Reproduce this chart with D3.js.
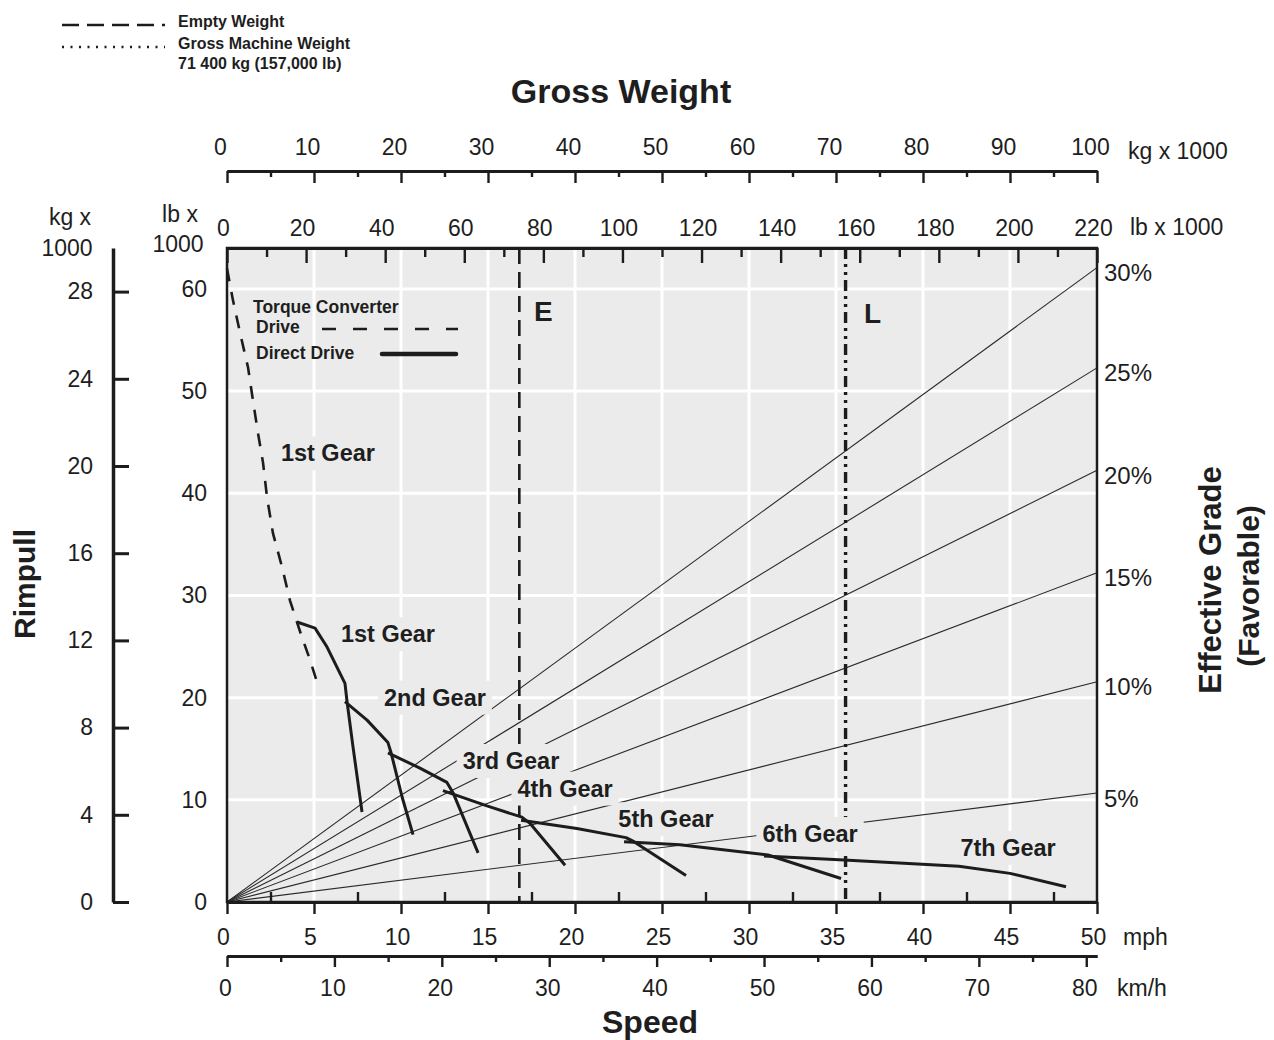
<!DOCTYPE html>
<html><head><meta charset="utf-8">
<script src="https://cdn.jsdelivr.net/npm/d3@7"></script>
<style>
body{margin:0;background:#fff;}
svg text{font-family:"Liberation Sans",Arial,Helvetica,sans-serif;fill:#1e1e1e;}
</style></head><body>
<svg id="c" width="1274" height="1040"></svg>
<script>
// ---------------- DATA ----------------
const weightKgTicks = [0,10,20,30,40,50,60,70,80,90,100];
const weightKgMinor = [5,15,25,35,45,55,65,75,85,95];
const weightLbTicks = [0,20,40,60,80,100,120,140,160,180,200,220];
const weightLbMinor = [10,30,50,70,90,110,130,150,170,190,210];
const rimpullKgTicks = [0,4,8,12,16,20,24,28];
const rimpullLbTicks = [0,10,20,30,40,50,60];
const speedMphTicks = [0,5,10,15,20,25,30,35,40,45,50];
const speedMphMinor = [2.5,7.5,12.5,17.5,22.5,27.5,32.5,37.5,42.5,47.5];
const speedKmhTicks = [0,10,20,30,40,50,60,70,80];
const speedKmhMinor = [5,15,25,35,45,55,65,75];
const mphGrid = [5,10,15,20,25,30,35,40,45];
const lbGrid = [10,20,30,40,50,60];

const grades = ["30%","25%","20%","15%","10%","5%"];
const gradeRimpullAt100t = [29.1,24.5,19.8,15.1,10.1,5.0]; // kg x 1000 rimpull at 100 t

const emptyWeightKg = 33.6;   // "E"
const grossWeightKg = 71.1;   // "L"

// curves: [mph, lb x 1000 rimpull]
const torqueConverter = [[0,62.0],[0.34,58.9],[0.75,55.7],[1.21,52.3],[1.49,49.1],[1.78,45.9],[2.07,43.0],[2.30,39.6],[2.64,36.1],[3.16,32.8],[3.62,29.5],[4.02,27.4],[4.31,25.9],[4.77,23.7],[5.23,21.2]];
const gear1 = [[4.02,27.4],[5.06,26.8],[5.75,24.95],[6.78,21.4],[6.90,19.6],[7.24,15.2],[7.76,8.8]];
const gear2 = [[6.78,19.6],[8.05,17.8],[9.25,15.6],[9.43,14.6],[10.06,10.3],[10.69,6.6]];
const gear3 = [[9.25,14.6],[11.09,13.1],[12.64,11.7],[12.99,10.7],[14.43,4.8]];
const gear4 = [[12.41,10.9],[14.94,9.4],[16.95,8.3],[17.41,7.7],[19.43,3.6]];
const gear5 = [[16.90,8.0],[20.11,7.2],[22.93,6.3],[23.39,5.9],[26.38,2.6]];
const gear6 = [[22.82,5.9],[26.03,5.6],[31.09,4.6],[35.29,2.3]];
const gear7 = [[30.86,4.5],[35.46,4.1],[42.07,3.5],[45.0,2.8],[48.22,1.5]];

const gearLabels = ["1st Gear","1st Gear","2nd Gear","3rd Gear","4th Gear","5th Gear","6th Gear","7th Gear"];
const gearLabelMph = [5.80,9.25,11.95,16.32,19.43,25.23,33.51,44.89];
const gearLabelLb  = [43.9,26.2,20.0,13.8,11.1,8.1,6.65,5.3];

// ---------------- CHART ----------------
const svg = d3.select("#c");
const L=227,R=1097,T=248,B=902;
const INK="#1c1c1c";
const xMph=d3.scaleLinear().domain([0,50]).range([L,R]);
const xKmh=d3.scaleLinear().domain([0,81]).range([L,R]);
const xKg=d3.scaleLinear().domain([0,100]).range([L,R]);
const xLb=d3.scaleLinear().domain([0,220]).range([L,R]);
const yLb=d3.scaleLinear().domain([0,64]).range([B,T]);
const yKg=d3.scaleLinear().domain([0,30]).range([B,T]);

// plot background
svg.append("rect").attr("x",L).attr("y",T).attr("width",R-L).attr("height",B-T).attr("fill","#ebebeb");

// white grid
svg.append("g").selectAll("line").data(mphGrid).join("line")
  .attr("x1",d=>xMph(d)).attr("x2",d=>xMph(d)).attr("y1",T).attr("y2",B)
  .attr("stroke","#fff").attr("stroke-width",3);
svg.append("g").selectAll("line").data(lbGrid).join("line")
  .attr("y1",d=>yLb(d)).attr("y2",d=>yLb(d)).attr("x1",L).attr("x2",R)
  .attr("stroke","#fff").attr("stroke-width",3);

// grade lines
svg.append("g").selectAll("line").data(gradeRimpullAt100t).join("line")
  .attr("x1",xKg(0)).attr("y1",yKg(0)).attr("x2",xKg(100)).attr("y2",d=>yKg(d))
  .attr("stroke","#2a2a2a").attr("stroke-width",1.1);
svg.append("g").selectAll("text").data(gradeRimpullAt100t).join("text")
  .attr("x",R+7).attr("y",d=>yKg(d)+5).attr("dominant-baseline","central")
  .attr("font-size",24).text((d,i)=>grades[i]);

// weight lines E and L
svg.append("line").attr("x1",xKg(emptyWeightKg)).attr("x2",xKg(emptyWeightKg)).attr("y1",T).attr("y2",B)
  .attr("stroke",INK).attr("stroke-width",2.6).attr("stroke-dasharray","16,8");
svg.append("line").attr("x1",xKg(grossWeightKg)).attr("x2",xKg(grossWeightKg)).attr("y1",T).attr("y2",B)
  .attr("stroke",INK).attr("stroke-width",3.4).attr("stroke-dasharray","11,5,3,5,3,5");
svg.append("text").attr("x",xKg(emptyWeightKg)+24).attr("y",311).attr("dominant-baseline","central")
  .attr("text-anchor","middle").attr("font-size",28).attr("font-weight","bold").text("E");
svg.append("text").attr("x",xKg(grossWeightKg)+27).attr("y",313).attr("dominant-baseline","central")
  .attr("text-anchor","middle").attr("font-size",28).attr("font-weight","bold").text("L");

// gear labels with background masks
const lblG = svg.append("g");
gearLabels.forEach((t,i)=>{
  const g = lblG.append("g");
  const tx = g.append("text").attr("x",xMph(gearLabelMph[i])).attr("y",yLb(gearLabelLb[i]))
    .attr("text-anchor","middle").attr("dominant-baseline","central")
    .attr("font-size",23.5).attr("font-weight","bold").text(t);
  const bb = tx.node().getBBox();
  g.insert("rect","text").attr("x",bb.x-6).attr("y",bb.y-4).attr("width",bb.width+12).attr("height",bb.height+8)
    .attr("fill","#ebebeb");
});

// curves
const line = d3.line().x(d=>xMph(d[0])).y(d=>yLb(d[1]));
svg.append("path").datum(torqueConverter).attr("d",line).attr("fill","none")
  .attr("stroke",INK).attr("stroke-width",2.6).attr("stroke-dasharray","13,11");
svg.append("g").selectAll("path").data([gear1,gear2,gear3,gear4,gear5,gear6,gear7]).join("path")
  .attr("d",line).attr("fill","none").attr("stroke",INK).attr("stroke-width",3)
  .attr("stroke-linejoin","round");

// plot frame
svg.append("rect").attr("x",L).attr("y",T).attr("width",R-L).attr("height",B-T)
  .attr("fill","none").attr("stroke",INK).attr("stroke-width",2.5);

function styleAxis(g, sw){
  g.selectAll("path.domain").attr("stroke",INK).attr("stroke-width",sw);
  g.selectAll(".tick line").attr("stroke",INK).attr("stroke-width",2.4);
  g.selectAll("text").attr("font-size",23).attr("font-family",null).attr("fill","#1e1e1e");
  g.attr("font-family",null).attr("font-size",null);
  return g;
}
function labelAxis(g, dx){
  g.select("path.domain").remove();
  g.selectAll(".tick line").remove();
  g.selectAll("text").attr("font-size",23).attr("dx",dx);
  g.attr("font-family",null).attr("font-size",null);
}

// top kg axis
const kgY=171;
styleAxis(svg.append("g").attr("transform",`translate(0,${kgY})`)
  .call(d3.axisBottom(xKg).tickValues(weightKgTicks).tickSizeInner(12).tickSizeOuter(0).tickFormat("")),3);
styleAxis(svg.append("g").attr("transform",`translate(0,${kgY})`)
  .call(d3.axisBottom(xKg).tickValues(weightKgMinor).tickSizeInner(6).tickSizeOuter(0).tickFormat("")),3);
labelAxis(svg.append("g").attr("transform",`translate(0,${kgY})`)
  .call(d3.axisTop(xKg).tickValues(weightKgTicks).tickSize(0).tickPadding(16)),-7);

// top lb axis (plot top edge, ticks inward)
styleAxis(svg.append("g").attr("transform",`translate(0,${T})`)
  .call(d3.axisBottom(xLb).tickValues(weightLbTicks).tickSizeInner(15).tickSizeOuter(0).tickFormat("")),3);
styleAxis(svg.append("g").attr("transform",`translate(0,${T})`)
  .call(d3.axisBottom(xLb).tickValues(weightLbMinor).tickSizeInner(9).tickSizeOuter(0).tickFormat("")),3);
labelAxis(svg.append("g").attr("transform",`translate(0,${T})`)
  .call(d3.axisTop(xLb).tickValues(weightLbTicks).tickSize(0).tickPadding(12)),-4);

// bottom mph axis
styleAxis(svg.append("g").attr("transform",`translate(0,${B})`)
  .call(d3.axisBottom(xMph).tickValues(speedMphTicks).tickSizeInner(12).tickSizeOuter(0).tickFormat("")),3);
styleAxis(svg.append("g").attr("transform",`translate(0,${B})`)
  .call(d3.axisTop(xMph).tickValues(speedMphMinor).tickSizeInner(10).tickSizeOuter(0).tickFormat("")),3);
labelAxis(svg.append("g").attr("transform",`translate(0,${B})`)
  .call(d3.axisBottom(xMph).tickValues(speedMphTicks).tickSize(0).tickPadding(27)),-4);

// km/h axis
const kmY=956;
styleAxis(svg.append("g").attr("transform",`translate(0,${kmY})`)
  .call(d3.axisBottom(xKmh).tickValues(speedKmhTicks).tickSizeInner(11).tickSizeOuter(0).tickFormat("")),3);
styleAxis(svg.append("g").attr("transform",`translate(0,${kmY})`)
  .call(d3.axisBottom(xKmh).tickValues(speedKmhMinor).tickSizeInner(6).tickSizeOuter(0).tickFormat("")),3);
labelAxis(svg.append("g").attr("transform",`translate(0,${kmY})`)
  .call(d3.axisBottom(xKmh).tickValues(speedKmhTicks).tickSize(0).tickPadding(24)),-2);

// left kg rimpull axis
const kgX=113;
styleAxis(svg.append("g").attr("transform",`translate(${kgX},0)`)
  .call(d3.axisRight(yKg).tickValues(rimpullKgTicks).tickSizeInner(16).tickSizeOuter(0).tickFormat("")),3.5)
  .selectAll(".tick line").attr("stroke-width",3);
labelAxis(svg.append("g").attr("transform",`translate(${kgX},0)`)
  .call(d3.axisLeft(yKg).tickValues(rimpullKgTicks).tickSize(0).tickPadding(20)),0);

// left lb rimpull labels
labelAxis(svg.append("g").attr("transform",`translate(${L},0)`)
  .call(d3.axisLeft(yLb).tickValues(rimpullLbTicks).tickSize(0).tickPadding(20)),0);

// unit labels
function txt(x,y,s,size,opts={}){
  const t=svg.append("text").attr("x",x).attr("y",y).attr("dominant-baseline","central")
    .attr("font-size",size).text(s);
  if(opts.anchor) t.attr("text-anchor",opts.anchor);
  if(opts.bold) t.attr("font-weight","bold");
  if(opts.rot) t.attr("transform",`rotate(-90,${x},${y})`);
  return t;
}
txt(1128,151,"kg x 1000",23);
txt(1130,227,"lb x 1000",23);
txt(1123,937,"mph",23);
txt(1117,988,"km/h",23);
txt(70,217,"kg x",23,{anchor:"middle"});
txt(67,248,"1000",23,{anchor:"middle"});
txt(180,214,"lb x",23,{anchor:"middle"});
txt(178,244,"1000",23,{anchor:"middle"});
txt(621,91,"Gross Weight",34,{anchor:"middle",bold:true});
txt(650,1022,"Speed",32,{anchor:"middle",bold:true});
txt(24,584,"Rimpull",30,{anchor:"middle",bold:true,rot:true});
txt(1210,580,"Effective Grade",31,{anchor:"middle",bold:true,rot:true});
txt(1248,586,"(Favorable)",30,{anchor:"middle",bold:true,rot:true});

// top-left legend
svg.append("line").attr("x1",62).attr("x2",165).attr("y1",25).attr("y2",25)
  .attr("stroke",INK).attr("stroke-width",2.6).attr("stroke-dasharray","17,8");
svg.append("line").attr("x1",62).attr("x2",165).attr("y1",47).attr("y2",47)
  .attr("stroke",INK).attr("stroke-width",2.4).attr("stroke-dasharray","2,6.5");
txt(178,21,"Empty Weight",16,{bold:true});
txt(178,43,"Gross Machine Weight",16,{bold:true});
txt(178,63,"71 400 kg (157,000 lb)",16,{bold:true});

// in-plot legend
txt(253,307,"Torque Converter",17.5,{bold:true}).attr("fill","#333");
txt(256,327,"Drive",17.5,{bold:true}).attr("fill","#333");
txt(256,353,"Direct Drive",17.5,{bold:true}).attr("fill","#333");
svg.append("line").attr("x1",322).attr("x2",458).attr("y1",329).attr("y2",329)
  .attr("stroke",INK).attr("stroke-width",2.6).attr("stroke-dasharray","14,17");
svg.append("line").attr("x1",382).attr("x2",456).attr("y1",354).attr("y2",354)
  .attr("stroke",INK).attr("stroke-width",4.5).attr("stroke-linecap","round");
</script>
</body></html>
